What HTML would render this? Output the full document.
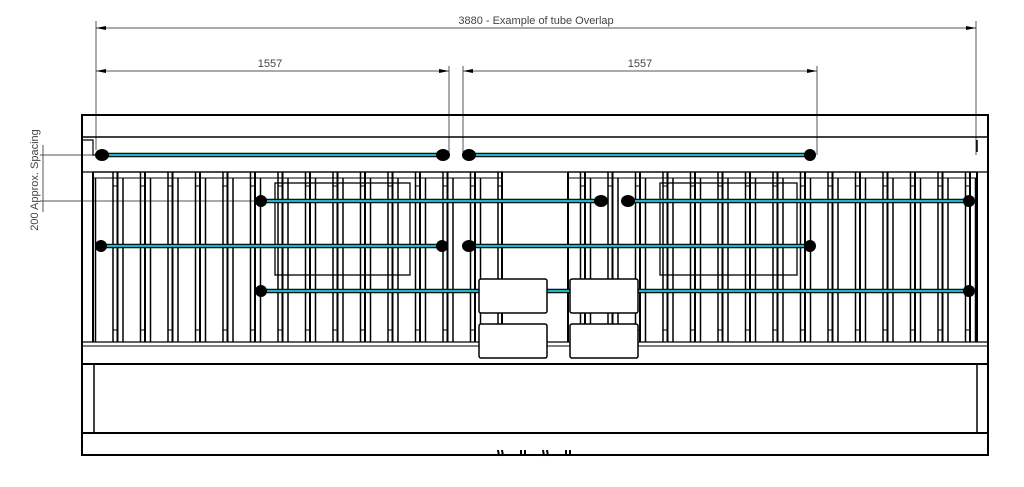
<!DOCTYPE html>
<html><head><meta charset="utf-8"><style>
html,body{margin:0;padding:0;background:#fff;}
svg{display:block;font-family:"Liberation Sans",sans-serif;}
</style></head><body>
<svg width="1024" height="487" viewBox="0 0 1024 487" xmlns="http://www.w3.org/2000/svg">
<defs>
<pattern id="fins" x="112" y="0" width="27.5" height="487" patternUnits="userSpaceOnUse">
<line x1="0" y1="172" x2="27.5" y2="172" stroke="#000" stroke-width="1.2"/>
<line x1="0" y1="178" x2="27.5" y2="178" stroke="#000" stroke-width="1"/>
<line x1="1" y1="172" x2="1" y2="342" stroke="#000" stroke-width="1.5"/>
<line x1="5.5" y1="172" x2="5.5" y2="342" stroke="#000" stroke-width="2"/>
<line x1="11" y1="178" x2="11" y2="342" stroke="#000" stroke-width="1.5"/>
<line x1="1" y1="186" x2="5.5" y2="186" stroke="#000" stroke-width="1"/>
<line x1="1" y1="330" x2="5.5" y2="330" stroke="#000" stroke-width="1"/>
</pattern>
</defs>
<g stroke="#555" stroke-width="1" fill="none">
<line x1="96" y1="21" x2="96" y2="150"/>
<line x1="976" y1="21" x2="976" y2="155"/>
<line x1="96" y1="28" x2="976" y2="28"/>
<line x1="449" y1="66" x2="449" y2="155"/>
<line x1="463" y1="66" x2="463" y2="155"/>
<line x1="817" y1="66" x2="817" y2="155"/>
<line x1="96" y1="71" x2="449" y2="71"/>
<line x1="463" y1="71" x2="817" y2="71"/>
<line x1="40" y1="155" x2="100" y2="155"/>
<line x1="40" y1="201" x2="260" y2="201"/>
<line x1="43" y1="145" x2="43" y2="212"/>
</g>
<g fill="#000">
<polygon points="96,28 106,26 106,30"/><polygon points="976,28 966,26 966,30"/>
<polygon points="96,71 106,69 106,73"/><polygon points="449,71 439,69 439,73"/>
<polygon points="463,71 473,69 473,73"/><polygon points="817,71 807,69 807,73"/>
</g>
<g fill="#444" font-size="11">
<text x="536" y="24" text-anchor="middle">3880 - Example of tube Overlap</text>
<text x="270" y="67" text-anchor="middle">1557</text>
<text x="640" y="67" text-anchor="middle">1557</text>
<text transform="translate(38,180) rotate(-90)" text-anchor="middle">200 Approx. Spacing</text>
</g>
<rect x="93" y="171" width="409" height="171" fill="url(#fins)"/>
<rect x="568" y="171" width="409" height="171" fill="url(#fins)"/>
<g stroke="#000" fill="none">
<rect x="82" y="115" width="906" height="340" stroke-width="2"/>
<line x1="82" y1="137" x2="988" y2="137" stroke-width="1.5"/>
<line x1="82" y1="172" x2="988" y2="172" stroke-width="1.2"/>
<line x1="93" y1="172" x2="93" y2="342" stroke-width="2"/>
<line x1="977" y1="172" x2="977" y2="342" stroke-width="2"/>
<line x1="502" y1="172" x2="502" y2="342" stroke-width="2"/>
<line x1="568" y1="172" x2="568" y2="342" stroke-width="2"/>
<line x1="82" y1="342" x2="988" y2="342" stroke-width="1.2"/>
<line x1="82" y1="346" x2="988" y2="346" stroke-width="1"/>
<line x1="82" y1="364" x2="988" y2="364" stroke-width="2"/>
<line x1="94" y1="364" x2="94" y2="433" stroke-width="1.5"/>
<line x1="977" y1="364" x2="977" y2="433" stroke-width="1.5"/>
<line x1="82" y1="433" x2="988" y2="433" stroke-width="2"/>
<rect x="275" y="183" width="135" height="92" stroke-width="1.3"/>
<rect x="660" y="183" width="137" height="92" stroke-width="1.3"/>
<polyline points="82,140 93,140 93,155 100,155" stroke-width="1.2"/>
<line x1="977" y1="140" x2="977" y2="152" stroke-width="1.5"/>
</g>
<g stroke="#000" stroke-width="4.5">
<line x1="100" y1="155" x2="443" y2="155"/><line x1="469" y1="155" x2="810" y2="155"/>
<line x1="260" y1="201" x2="601" y2="201"/><line x1="628" y1="201" x2="969" y2="201"/>
<line x1="100" y1="246" x2="443" y2="246"/><line x1="469" y1="246" x2="810" y2="246"/>
<line x1="260" y1="291" x2="969" y2="291"/>
</g>
<g stroke="#1fb3c8" stroke-width="2.3">
<line x1="100" y1="155" x2="443" y2="155"/><line x1="469" y1="155" x2="810" y2="155"/>
<line x1="260" y1="201" x2="601" y2="201"/><line x1="628" y1="201" x2="969" y2="201"/>
<line x1="100" y1="246" x2="443" y2="246"/><line x1="469" y1="246" x2="810" y2="246"/>
<line x1="260" y1="291" x2="969" y2="291"/>
</g>
<g fill="#000">
<ellipse cx="102" cy="155" rx="7" ry="6"/><ellipse cx="443" cy="155" rx="7" ry="6"/>
<ellipse cx="469" cy="155" rx="7" ry="6"/><ellipse cx="810" cy="155" rx="6" ry="6"/>
<ellipse cx="261" cy="201" rx="6" ry="6"/><ellipse cx="601" cy="201" rx="7" ry="6"/>
<ellipse cx="628" cy="201" rx="7" ry="6"/><ellipse cx="969" cy="201" rx="6" ry="6"/>
<ellipse cx="101" cy="246" rx="6" ry="6"/><ellipse cx="442" cy="246" rx="6" ry="6"/>
<ellipse cx="469" cy="246" rx="7" ry="6"/><ellipse cx="810" cy="246" rx="6" ry="6"/>
<ellipse cx="261" cy="291" rx="6" ry="6"/><ellipse cx="969" cy="291" rx="6" ry="6"/>
</g>
<g fill="#fff" stroke="#000" stroke-width="1.5">
<rect x="479" y="279" width="68" height="34" rx="2"/>
<rect x="570" y="279" width="68" height="34" rx="2"/>
<rect x="479" y="324" width="68" height="34" rx="2"/>
<rect x="570" y="324" width="68" height="34" rx="2"/>
</g>
<g stroke="#000" stroke-width="2">
<line x1="498" y1="450" x2="499" y2="456"/><line x1="502" y1="450" x2="503" y2="456"/>
<line x1="521" y1="450" x2="521" y2="456"/><line x1="525" y1="450" x2="525" y2="456"/>
<line x1="543" y1="450" x2="544" y2="456"/><line x1="547" y1="450" x2="548" y2="456"/>
<line x1="566" y1="450" x2="566" y2="456"/><line x1="570" y1="450" x2="570" y2="456"/>
</g>
</svg>
</body></html>
